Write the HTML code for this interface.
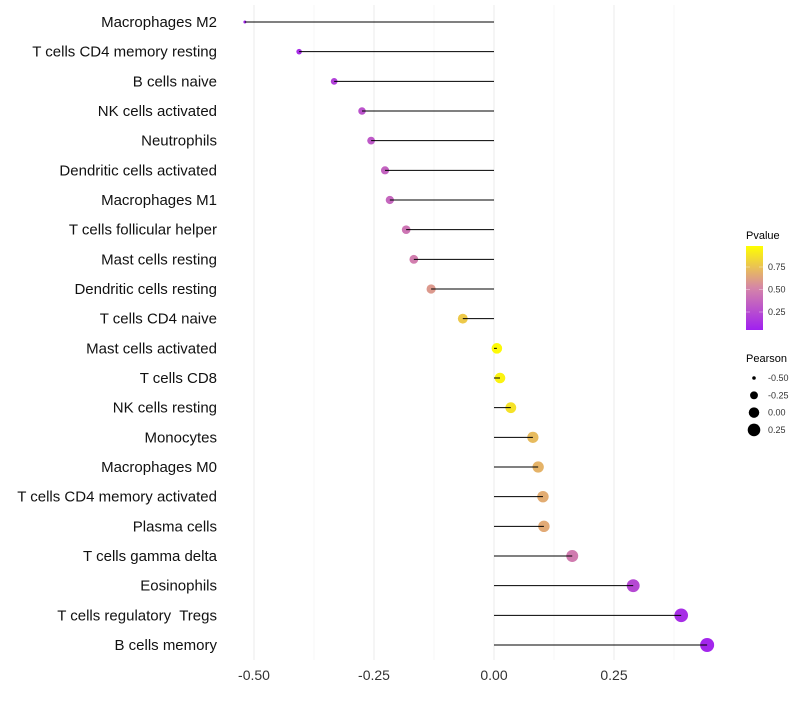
<!DOCTYPE html>
<html><head><meta charset="utf-8"><style>
body{margin:0;background:#fff;font-family:"Liberation Sans",sans-serif;}
svg text{font-family:"Liberation Sans",sans-serif;white-space:pre;}
</style></head><body>
<svg id="chart" width="800" height="700" xmlns="http://www.w3.org/2000/svg">
<defs><linearGradient id="pg" x1="0" y1="1" x2="0" y2="0">
<stop offset="0" stop-color="#a020f0"/><stop offset="0.5" stop-color="#d585a8"/><stop offset="1" stop-color="#ffff00"/>
</linearGradient></defs>
<g id="grid"></g><g id="marks"></g><g id="labels"></g>
<g>
<text x="746" y="239" font-size="11">Pvalue</text>
<rect x="746" y="246" width="17" height="84" fill="url(#pg)"/>
<g id="cbticks"></g>
</g>
<g id="sizeleg">
<text x="746" y="362" font-size="11">Pearson</text>
</g>
</svg>
<script>
const categories=["Macrophages M2","T cells CD4 memory resting","B cells naive","NK cells activated","Neutrophils","Dendritic cells activated","Macrophages M1","T cells follicular helper","Mast cells resting","Dendritic cells resting","T cells CD4 naive","Mast cells activated","T cells CD8","NK cells resting","Monocytes","Macrophages M0","T cells CD4 memory activated","Plasma cells","T cells gamma delta","Eosinophils","T cells regulatory  Tregs","B cells memory"];
const pearson=[-0.519,-0.406,-0.333,-0.275,-0.256,-0.227,-0.217,-0.183,-0.167,-0.131,-0.065,0.006,0.0125,0.035,0.081,0.092,0.102,0.104,0.163,0.29,0.39,0.444];
const pvalue=[0.02,0.07,0.16,0.25,0.28,0.33,0.35,0.42,0.46,0.58,0.78,0.98,0.95,0.88,0.72,0.69,0.66,0.65,0.45,0.2,0.07,0.03];
const xTicks=[-0.5,-0.25,0,0.25];
const xTickLabels=["-0.50","-0.25","0.00","0.25"];
const cbTicks=[0.25,0.5,0.75];
const cbTickLabels=["0.25","0.50","0.75"];
const sizeLegend=[-0.5,-0.25,0,0.25];
const sizeLegendLabels=["-0.50","-0.25","0.00","0.25"];

const NS="http://www.w3.org/2000/svg";
const x=v=>494+v*480;
const y=i=>22+i*(623/21);
const cbY=p=>334.5-p*90;
const rad=v=>Math.sqrt(2.2+ (v+0.52)/0.96*(49-2.2));
function col(p){
  const stops=[[0,[160,32,240]],[0.5,[213,133,168]],[1,[255,255,0]]];
  let a=stops[0],b=stops[1];if(p>0.5){a=stops[1];b=stops[2];}
  const t=(p-a[0])/(b[0]-a[0]);
  const c=a[1].map((v,k)=>Math.round(v+(b[1][k]-v)*t));
  return `rgb(${c.join(',')})`;
}
function mk(tag,attrs,parent){const e=document.createElementNS(NS,tag);for(const k in attrs)e.setAttribute(k,attrs[k]);parent.appendChild(e);return e;}
const grid=document.getElementById('grid'),marks=document.getElementById('marks'),labels=document.getElementById('labels');
[-0.375,-0.125,0.125,0.375].forEach(v=>{const l=mk('line',{x1:x(v),x2:x(v),y1:5,y2:660,stroke:'#f2f2f2','stroke-width':0.6},grid);

});
xTicks.forEach((v,i)=>{const l=mk('line',{x1:x(v),x2:x(v),y1:5,y2:660,stroke:'#ebebeb','stroke-width':1},grid);


const t=mk('text',{x:x(v),y:680,'font-size':14,'text-anchor':'middle',fill:'#333'},labels);t.textContent=xTickLabels[i];

});
categories.forEach((c,i)=>{
  const cy=y(i);
  const t=mk('text',{x:217,y:cy+5,'font-size':15,'text-anchor':'end',fill:'#111'},labels);t.textContent=c;
  
  
  const p=mk('circle',{cx:x(pearson[i]),cy:cy,r:rad(pearson[i]),fill:col(pvalue[i])},marks);
  
  
  const s=mk('line',{x1:x(0),x2:x(pearson[i]),y1:cy,y2:cy,stroke:'#000','stroke-width':1},marks);
  
  
});
const cbt=document.getElementById('cbticks');
cbTicks.forEach((v,i)=>{
  mk('line',{x1:746,x2:750,y1:cbY(v),y2:cbY(v),stroke:'#fff','stroke-width':0.6,opacity:0.6},cbt);
  mk('line',{x1:759,x2:763,y1:cbY(v),y2:cbY(v),stroke:'#fff','stroke-width':0.6,opacity:0.6},cbt);
  const t=mk('text',{x:768,y:cbY(v)+3,'font-size':9,fill:'#333'},cbt);t.textContent=cbTickLabels[i];
  
  
});
const sl=document.getElementById('sizeleg');
sizeLegend.forEach((v,i)=>{
  const cy=378+i*17.3;
  const c=mk('circle',{cx:754,cy:cy,r:rad(v),fill:'#000'},sl);
  
  
  const t=mk('text',{x:768,y:cy+3,'font-size':9,fill:'#333'},sl);t.textContent=sizeLegendLabels[i];
  
  
});
</script>
</body></html>
